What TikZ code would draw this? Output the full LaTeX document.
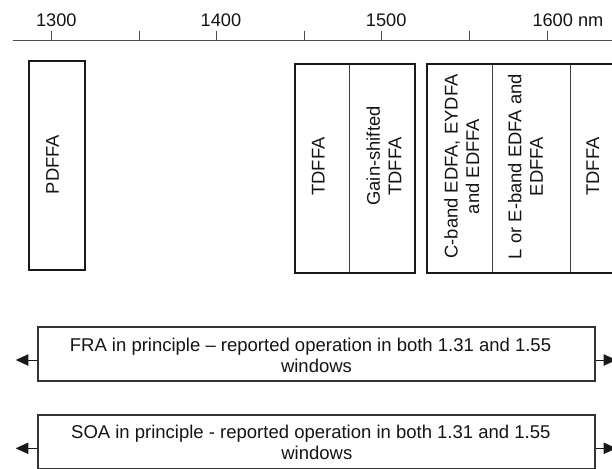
\documentclass[tikz,border=0pt]{standalone}
\usepackage{fontspec}
\setmainfont{Liberation Sans}
\usetikzlibrary{arrows.meta}
\newcommand{\labelfont}{\fontsize{18.4}{21.5}\selectfont}
\begin{document}
\begin{tikzpicture}[x=1pt,y=-1pt,
  axisline/.style={draw=black!70,line width=1pt},
  ticklabel/.style={font=\fontsize{18.2}{21}\selectfont,text=black!92,inner sep=0pt,anchor=base},
  frame/.style={draw=black!90,line width=1.7pt},
  divider/.style={draw=black!75,line width=0.9pt},
  vlabel/.style={rotate=90,align=center,font=\labelfont,text=black!92,inner sep=0pt},
  band/.style={draw=black!80,line width=2pt,minimum height=54pt,inner sep=0pt},
  bandtext/.style={align=center,font=\fontsize{18.5}{20.5}\selectfont,text=black!92,inner sep=0pt},
  arr/.style={draw=black!90,line width=1pt,-{Triangle[length=12.6pt,width=11.3pt]}}]
\useasboundingbox (0,0) rectangle (612,468);
\clip (0,0) rectangle (612,468);

% wavelength axis
\coordinate (axL) at (12.7,41);
\coordinate (axR) at (612,41);
\draw[axisline] (axL) -- (axR);
\foreach \tx in {51.8,139.6,216.4,304.9,381.7,469.8,547.0}
  \draw[axisline] (\tx,30.7) -- (\tx,41);
\node[ticklabel] (l1300) at (56.3,26.7) {1300};
\node[ticklabel] (l1400) at (220.9,26.7) {1400};
\node[ticklabel] (l1500) at (386.2,26.7) {1500};
\node[ticklabel,anchor=base west] (l1600) at (532.3,26.7) {1600 nm};

% O-band amplifier
\draw[frame] (29.3,61) rectangle (85,270);
\node[vlabel] (pdffa) at (52.5,164.5) {PDFFA};

% S-band group
\draw[divider] (349.3,64.3) -- (349.3,273);
\draw[frame] (295,64.3) rectangle (415.3,273);
\node[vlabel] (tdffaS) at (318.3,166.5) {TDFFA};
\node[vlabel] (gstdffa) at (383.9,166.5) {\hspace*{21pt}Gain-shifted\\TDFFA};

% C/L-band group
\draw[divider] (492.3,64.3) -- (492.3,273);
\draw[divider] (570.7,64.3) -- (570.7,273);
\draw[frame] (426.7,64.3) rectangle (620,273);
\node[vlabel] (cband) at (461.7,166.5) {C-band EDFA, EYDFA\\and EDFFA};
\node[vlabel] (lband) at (525.5,166.5) {L or E-band EDFA and\\EDFFA};
\node[vlabel] (tdffaL) at (592.7,166.5) {TDFFA};

% broadband amplifiers
\node[band,minimum width=556.4pt] (fra) at (316.5,353.5) {};
\node[bandtext] (fratext) at (310.5,355.4)
  {FRA in principle – reported operation in both 1.31 and 1.55\\\hspace*{12pt}windows};
\coordinate (fraL) at (15.7,360);
\coordinate (fraR) at (616.3,360);
\draw[arr] ([yshift=-6.5pt]fra.west) -- (fraL);
\draw[arr] ([yshift=-6.5pt]fra.east) -- (fraR);

\node[band,minimum width=557pt] (soa) at (316.8,441.7) {};
\node[bandtext] (soatext) at (310.8,442.3)
  {SOA in principle - reported operation in both 1.31 and 1.55\\\hspace*{12pt}windows};
\coordinate (soaL) at (15.7,448.3);
\coordinate (soaR) at (616.3,448.3);
\draw[arr] ([yshift=-6.6pt]soa.west) -- (soaL);
\draw[arr] ([yshift=-6.6pt]soa.east) -- (soaR);
\end{tikzpicture}
\end{document}
